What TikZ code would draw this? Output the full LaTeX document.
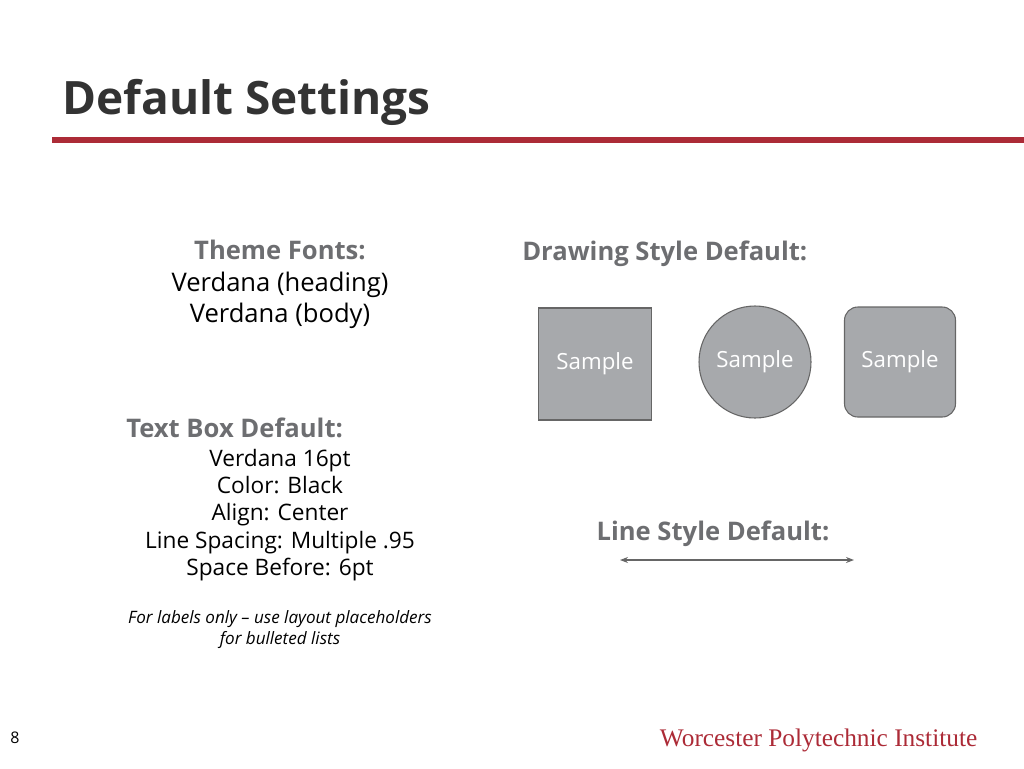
\documentclass[tikz,border=0pt]{standalone}
\usepackage{fontspec}
\setmainfont{Open Sans}
\newfontfamily\wpifont{Liberation Serif}
\usetikzlibrary{positioning,arrows.meta,shapes}
\definecolor{wpired}{HTML}{AC2B37}
\definecolor{shapegray}{HTML}{A7A9AC}
\definecolor{headgray}{HTML}{6D6E71}
\begin{document}
\begin{tikzpicture}[
  x=0.75pt, y=-0.75pt,
  heading/.style={anchor=base, font=\fontsize{19.2}{22}\selectfont\bfseries, text=headgray},
  body/.style={anchor=base, font=\fontsize{19.2}{22}\selectfont, text=black},
  small body/.style={anchor=base, font=\fontsize{17}{20}\selectfont, text=black},
  sample/.style={draw=black!60, fill=shapegray, text=white, font=\fontsize{16.7}{19}\selectfont, thick},
  arrow/.style={{Stealth[length=6pt]}-{Stealth[length=6pt]}, black!60, thick}
]
\useasboundingbox (0,0) rectangle (1024,768);

% Title
\node[anchor=base west, inner sep=0pt, font=\fontsize{34.5}{40}\selectfont\bfseries, text=black!80] (title) at (62,114) {Default Settings};
\draw[wpired, line width=4pt] (52,140) -- (1024,140);

% Theme fonts
\node[heading] (themehead) at (280,259) {Theme Fonts:};
\node[body] (theme1) at (280,291) {Verdana (heading)};
\node[body] (theme2) at (280,322) {Verdana (body)};

% Drawing style
\node[heading, anchor=base west, inner sep=0pt] (drawhead) at (522,260) {Drawing Style Default:};
\node[sample, minimum width=113*0.75pt, minimum height=112*0.75pt] (square) at (595,364) {Sample};
\node[sample, circle, minimum size=112*0.75pt, inner sep=0pt] (circ) at (755,362) {Sample};
\node[sample, rounded corners=10pt, minimum width=111*0.75pt, minimum height=110*0.75pt] (rounded) at (900,362) {Sample};

% Text box
\node[heading, anchor=base west, inner sep=0pt] (texthead) at (126,437) {Text Box Default:};
\node[small body] (tb1) at (280,466) {Verdana 16pt};
\node[small body] (tb2) at (280,493) {Color: Black};
\node[small body] (tb3) at (280,520) {Align: Center};
\node[small body] (tb4) at (280,548) {Line Spacing: Multiple .95};
\node[small body] (tb5) at (280,575) {Space Before: 6pt};
\node[anchor=base, font=\fontsize{12.8}{15}\selectfont\itshape] (note1) at (280,623) {For labels only – use layout placeholders};
\node[anchor=base, font=\fontsize{12.8}{15}\selectfont\itshape] (note2) at (280,644) {for bulleted lists};

% Line style
\node[heading] (linehead) at (713,540) {Line Style Default:};
\coordinate (la) at (620,560);
\coordinate (lb) at (854,560);
\draw[arrow] (la) -- (lb);

% Footer
\node[font=\fontsize{12}{14}\selectfont] (pagenum) at (15,738) {8};
\node[anchor=east, font=\wpifont\fontsize{19}{22}\selectfont, text=wpired] (wpi) at (982,740) {Worcester Polytechnic Institute};
\end{tikzpicture}
\end{document}
